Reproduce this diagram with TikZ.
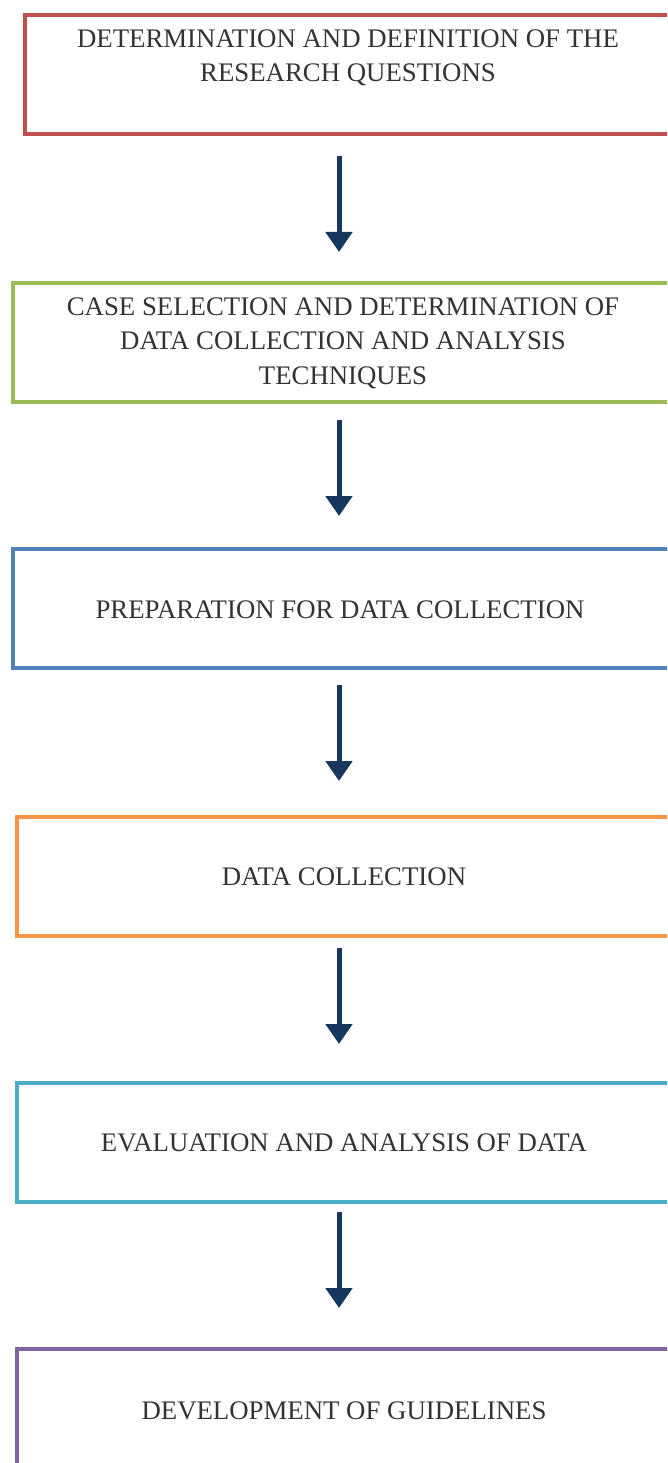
\documentclass[tikz,border=0pt]{standalone}
\usepackage{fontspec}
\setmainfont{Liberation Serif}
\usetikzlibrary{arrows.meta}
\definecolor{cRed}{HTML}{C0504D}
\definecolor{cGreen}{HTML}{9BBB59}
\definecolor{cBlue}{HTML}{4F81BD}
\definecolor{cOrange}{HTML}{F79646}
\definecolor{cTeal}{HTML}{4BACC6}
\definecolor{cPurple}{HTML}{8064A2}
\definecolor{cArrow}{HTML}{17375E}
\definecolor{cText}{HTML}{333333}
\tikzset{
  stagebox/.style={draw=#1, line width=4pt},
  stagetext/.style={text=cText, align=center, inner sep=0pt,
    font=\fontsize{26.8}{34.5}\selectfont},
  flowarrow/.style={draw=cArrow, line width=5pt,
    -{Triangle[width=26pt,length=20pt]}, color=cArrow},
}
\begin{document}
\begin{tikzpicture}[x=1pt,y=-1pt]
\useasboundingbox (0,0) rectangle (667,1463);
\clip (0,0) rectangle (667,1463);
\fill[white] (0,0) rectangle (667,1463);

% stage frames (they run past the right edge)
\node[stagebox=cRed, anchor=north west, minimum width=700pt, minimum height=119pt] (b1) at (23,13) {};
\node[stagebox=cGreen, anchor=north west, minimum width=700pt, minimum height=119pt] (b2) at (11,281) {};
\node[stagebox=cBlue, anchor=north west, minimum width=700pt, minimum height=119pt] (b3) at (11,547) {};
\node[stagebox=cOrange, anchor=north west, minimum width=700pt, minimum height=119pt] (b4) at (15,815) {};
\node[stagebox=cTeal, anchor=north west, minimum width=700pt, minimum height=119pt] (b5) at (15,1081) {};
\node[stagebox=cPurple, anchor=north west, minimum width=700pt, minimum height=200pt] (b6) at (15,1347) {};

% stage labels
\node[stagetext] (t1) at (348,58) {DETERMINATION AND DEFINITION OF THE\\RESEARCH QUESTIONS};
\node[stagetext] (t2) at (343,343) {CASE SELECTION AND DETERMINATION OF\\DATA COLLECTION AND ANALYSIS\\TECHNIQUES};
\node[stagetext] (t3) at (340,610) {PREPARATION FOR DATA COLLECTION};
\node[stagetext] (t4) at (344,877) {DATA COLLECTION};
\node[stagetext] (t5) at (344,1143) {EVALUATION AND ANALYSIS OF DATA};
\node[stagetext] (t6) at (344,1411) {DEVELOPMENT OF GUIDELINES};

% arrow end points between the frames
\coordinate (a1s) at (339,156); \coordinate (a1e) at (339,252);
\coordinate (a2s) at (339,420); \coordinate (a2e) at (339,516);
\coordinate (a3s) at (339,685); \coordinate (a3e) at (339,781);
\coordinate (a4s) at (339,948); \coordinate (a4e) at (339,1044);
\coordinate (a5s) at (339,1212); \coordinate (a5e) at (339,1308);

\draw[flowarrow] (a1s) -- (a1e);
\draw[flowarrow] (a2s) -- (a2e);
\draw[flowarrow] (a3s) -- (a3e);
\draw[flowarrow] (a4s) -- (a4e);
\draw[flowarrow] (a5s) -- (a5e);
\end{tikzpicture}
\end{document}
